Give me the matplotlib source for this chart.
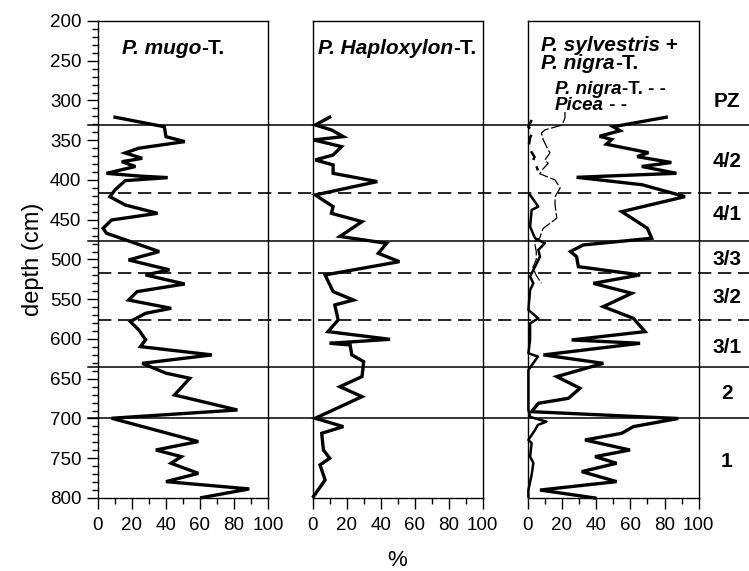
import matplotlib
matplotlib.use("Agg")
import matplotlib.pyplot as plt
from matplotlib.lines import Line2D
from matplotlib import transforms
from matplotlib.ticker import MultipleLocator

plt.rcParams['font.family'] = ['Liberation Sans', 'DejaVu Sans']

# ---------------- data ----------------
mugo_depth = [321, 333, 345.5, 351.7, 360, 366, 372.7, 377, 383, 391.6, 395, 397, 400.8,
              412.5, 421, 431.4, 441.9, 450.3, 460.7, 467, 490, 500.6, 513, 519.4, 530.8,
              540.4, 551, 561.4, 567.7, 578, 588.6, 601, 609.6, 620, 630.6, 643, 649.4,
              670.4, 689.3, 699.7, 729, 739.6, 748, 756.3, 769, 779.4, 788.6, 799.5]
mugo = [10, 39, 40, 51, 24, 16, 26, 14, 22, 5, 24, 41, 16,
        10, 7, 16, 35, 8, 3, 5, 36, 18, 42, 28, 51,
        23, 18, 43, 28, 19, 24, 28, 25, 67, 26, 40, 54,
        45, 82, 8, 59, 34, 49, 43, 59, 40, 89, 61]

haplo_depth = [321, 330.8, 337, 345.4, 349.6, 358, 368.5, 374.8, 381, 391.6, 402, 418.8,
               433.5, 441.9, 452.4, 471, 479.6, 492.2, 502.7, 519.4, 540.4, 551, 557.2,
               576, 590.7, 600.4, 605.4, 607.5, 620, 628.5, 647.3, 660, 672.5, 699.7,
               710.2, 718.6, 739.6, 750, 758.4, 777.3, 798]
haplo = [10, 1.5, 11, 18, 0.5, 17, 12, 1.5, 12, 12, 38, 1.5,
         12, 11, 29, 16, 43.5, 38.6, 51, 7.3, 12, 24, 13,
         15, 9, 45.5, 10, 22, 23, 30, 29, 16, 29, 1.5,
         18, 5.3, 6.3, 10, 4.3, 7.3, 0.5]

pine_depth = [321, 333, 338, 345, 349, 355, 365.6, 370.6, 378, 383, 391.6, 396.6, 406,
              420.9, 439.8, 460.7, 473.3, 481.7, 490, 496.4, 509, 519.4, 530, 542.5,
              559.3, 574, 590.7, 601.2, 605.4, 620, 630.6, 647.3, 662, 674.6, 680.9,
              691.4, 700, 710.2, 718.6, 727, 739.6, 748, 756.3, 766.8, 779.4, 790, 800]
pine = [81, 50, 54, 42, 49, 46, 70.6, 64, 84, 66.7, 87, 28.6, 67,
        92, 55, 70, 72.5, 32.5, 25, 28.6, 29.6, 65.7, 38.4, 60.8,
        44.2, 61.8, 68.6, 25.7, 65.7, 9.2, 44.2, 17, 30.6, 23.8, 6.2,
        2.3, 88, 61.8, 55, 33.5, 59.8, 39.4, 52, 31.6, 52, 7.2, 39.4]

nigra_upper_depth = [324.5, 333, 340, 346, 358, 364, 371, 376, 382, 388]
nigra_upper = [2.3, 0.4, 3, 1.5, 0.5, 2, 4, 3, 5, 6]

nigra_depth = [418.8, 433.5, 437.7, 458.6, 473.3, 479.6, 488, 496.4, 509, 521.5, 530,
               538.3, 563.5, 574, 580.3, 601, 618, 622, 639, 689, 698, 704, 708, 714.4,
               727, 731, 748, 756, 771, 790, 798]
nigra = [1.4, 6.2, 2.3, 1.4, 4.3, 10, 6.2, 7.2, 4.3, 1.4, 3.3,
         1.4, 0.4, 6.2, 1.4, 1.4, 0.4, 6, 0.4, 0.4, 1.4, 11, 6, 4.3,
         0.4, 2.3, 1.4, 3.3, 2.3, 0.4, 0.4]

picea_depth = [314.5, 322, 331, 337, 341, 349, 358, 366, 375, 379, 386, 392, 400, 410,
               421, 431, 448, 461, 473, 478, 490, 500, 510, 520, 530]
picea = [21.8, 21.8, 20, 10, 8, 9, 11, 13, 10, 12, 9, 7, 16, 19,
         16, 16, 17, 9, 7, 4, 5, 5, 3, 5, 8]

zone_solid = [331, 477, 635, 700]
zone_dashed = [416, 517, 576]
zone_labels = ["PZ", "4/2", "4/1", "3/3", "3/2", "3/1", "2", "1"]
zone_label_depth = [301, 377, 444, 500, 548, 611, 668, 754]

x_ticks = [0, 20, 40, 60, 80, 100]
y_ticks = list(range(200, 801, 50))

# ---------------- figure ----------------
W, H = 749, 571
fig = plt.figure(figsize=(W / 100, H / 100), dpi=100)

def fx(px):
    return px / W

def fy(py):
    return 1 - py / H

top_px, bot_px = 21, 498
panels_x = [(98, 268), (312.7, 482.7), (527.7, 698.7)]
axes = []
for i, (x0, x1) in enumerate(panels_x):
    ax = fig.add_axes([fx(x0), fy(bot_px), fx(x1 - x0), (bot_px - top_px) / H])
    ax.set_xlim(0, 100)
    ax.set_ylim(800, 200)
    ax.set_xticks(x_ticks)
    ax.xaxis.set_minor_locator(MultipleLocator(10))
    ax.tick_params(axis='x', which='major', direction='out', length=8, width=1,
                   labelsize=13.5, pad=6)
    ax.tick_params(axis='x', which='minor', direction='out', length=4, width=1)
    for sp in ax.spines.values():
        sp.set_linewidth(1.0)
    if i == 0:
        ax.set_yticks(y_ticks)
        ax.yaxis.set_minor_locator(MultipleLocator(10))
        ax.tick_params(axis='y', which='major', direction='out', length=8, width=1,
                       labelsize=13.5, pad=4)
        ax.tick_params(axis='y', which='minor', direction='out', length=4, width=1)
    else:
        ax.tick_params(axis='y', which='both', left=False, labelleft=False)
    axes.append(ax)

ax1, ax2, ax3 = axes
ax1.plot(mugo, mugo_depth, color='black', lw=2.4, solid_joinstyle='miter')
ax2.plot(haplo, haplo_depth, color='black', lw=2.4, solid_joinstyle='miter')
ax3.plot(pine, pine_depth, color='black', lw=2.4, solid_joinstyle='miter')
ax3.plot(nigra, nigra_depth, color='black', lw=1.8)
ax3.plot(nigra_upper, nigra_upper_depth, color='black', lw=1.8, ls=(0, (4, 3)))
ax3.plot(picea, picea_depth, color='black', lw=0.9, ls=(0, (9, 2)))
for ax in axes:
    for l in ax.lines:
        l.set_clip_on(False)

ax1.set_ylabel("depth (cm)", fontsize=17, labelpad=4)
fig.text(fx(397), fy(560), "%", fontsize=16, ha='center', va='center')

# zone lines spanning the figure
trans = transforms.blended_transform_factory(fig.transFigure, ax1.transData)
for d in zone_solid:
    fig.add_artist(Line2D([fx(88), 1.0], [d, d], transform=trans, color='black', lw=1.1))
for d in zone_dashed:
    fig.add_artist(Line2D([fx(98), 1.0], [d, d], transform=trans, color='black', lw=1.2,
                          ls=(0, (8, 4))))

for lab, d in zip(zone_labels, zone_label_depth):
    fig.text(fx(727), d, lab, transform=trans, fontsize=15, fontweight='bold',
             ha='center', va='center')

# mixed italic / upright titles
renderer = fig.canvas.get_renderer()

def mixed(x_px, base_px, pieces, size):
    x = fx(x_px)
    for s, style in pieces:
        t = fig.text(x, fy(base_px), s, fontsize=size, fontweight='bold',
                     fontstyle=style, ha='left', va='baseline')
        w = t.get_window_extent(renderer).width
        x += w / W

mixed(122, 54, [("P. mugo", 'italic'), ("-T.", 'normal')], 15)
mixed(318, 54, [("P. Haploxylon", 'italic'), ("-T.", 'normal')], 15)
mixed(541, 51, [("P. sylvestris", 'italic'), (" +", 'normal')], 15)
mixed(541, 69, [("P. nigra", 'italic'), ("-T.", 'normal')], 15)
mixed(555, 94, [("P. nigra", 'italic'), ("-T. - -", 'normal')], 13.5)
mixed(555, 110, [("Picea", 'italic'), (" - -", 'normal')], 13.5)

fig.savefig("out.png", dpi=100)
